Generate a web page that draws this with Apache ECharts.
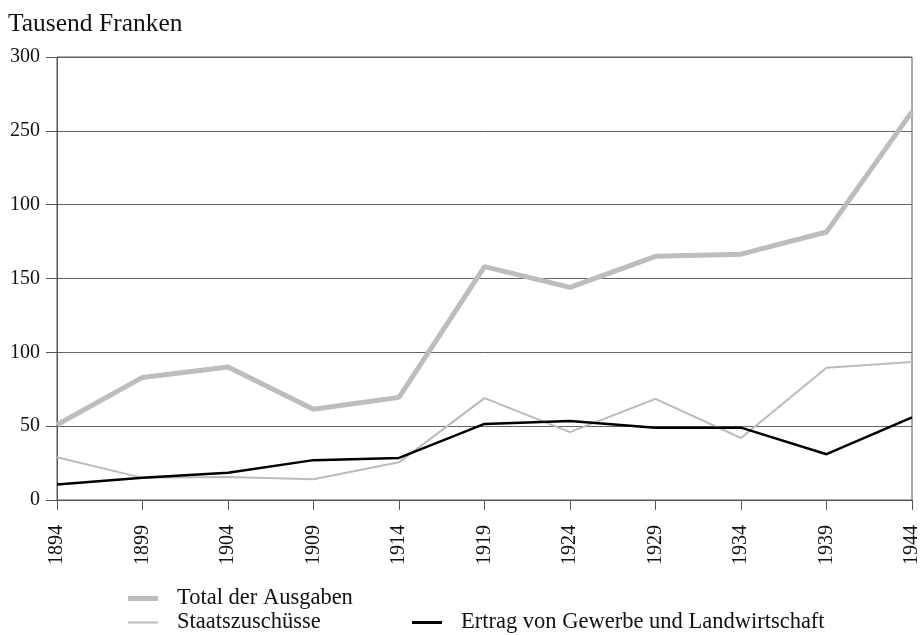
<!DOCTYPE html>
<html>
<head>
<meta charset="utf-8">
<script src="https://cdn.jsdelivr.net/npm/echarts@6/dist/echarts.min.js"></script>
<style>
html,body{margin:0;padding:0;background:#fff;}
#chart{width:922px;height:635px;}
</style>
</head>
<body>
<div id="chart"></div>
<script>
const years = ['1894','1899','1904','1909','1914','1919','1924','1929','1934','1939','1944'];
const totalAusgaben = [51, 83, 90, 61.5, 69.5, 158, 144, 165, 166.5, 181.5, 263];
const staatszuschuesse = [29, 15, 15.5, 14, 25.5, 69, 46, 68.5, 42, 89.5, 93.5];
const ertrag = [10.5, 15, 18.5, 27, 28.5, 51.5, 53.5, 49, 49, 31, 56];
const yTickLabels = ['0', '50', '100', '150', '100', '250', '300'];
const yTitle = 'Tausend Franken';
const seriesNames = ['Total der Ausgaben', 'Staatszuschüsse', 'Ertrag von Gewerbe und Landwirtschaft'];

const font = '"Liberation Serif", "DejaVu Serif", serif';
const chart = echarts.init(document.getElementById('chart'), null, {renderer: 'canvas'});
const legendText = {fontFamily: font, fontSize: 22.5, color: '#111', padding: [0, 0, 0, 14]};
chart.setOption({
  animation: false,
  backgroundColor: '#fff',
  textStyle: {fontFamily: font},
  title: {
    text: yTitle, left: 3, top: 6,
    textStyle: {fontFamily: font, fontSize: 25.5, fontWeight: 'normal', color: '#111'}
  },
  grid: {left: 57, right: 6, top: 57, bottom: 135, show: true, borderColor: '#555', borderWidth: 1, backgroundColor: 'transparent'},
  legend: [
    {data: [seriesNames[0]], left: 123, top: 582, itemWidth: 30, itemHeight: 5, icon: 'rect', textStyle: legendText},
    {data: [seriesNames[1]], left: 123, top: 606, itemWidth: 30, itemHeight: 2, icon: 'rect', textStyle: legendText},
    {data: [seriesNames[2]], left: 407, top: 606, itemWidth: 30, itemHeight: 3, icon: 'rect', textStyle: legendText}
  ],
  xAxis: {
    type: 'category', data: years, boundaryGap: false,
    axisLine: {lineStyle: {color: '#555', width: 1}},
    axisTick: {show: true, length: 10, alignWithLabel: true, lineStyle: {color: '#555'}},
    axisLabel: {rotate: 90, margin: 25, fontFamily: font, fontSize: 20, color: '#111'},
    splitLine: {show: false}
  },
  yAxis: {
    type: 'value', min: 0, max: 300, interval: 50,
    axisLine: {show: true, lineStyle: {color: '#555', width: 1}},
    axisTick: {show: true, length: 11, lineStyle: {color: '#555'}},
    axisLabel: {margin: 17, fontFamily: font, fontSize: 20, color: '#111',
      formatter: v => yTickLabels[Math.round(v / 50)]},
    splitLine: {show: true, lineStyle: {color: '#666', width: 1}}
  },
  series: [
    {name: seriesNames[0], type: 'line', data: totalAusgaben, symbol: 'none', z: 3,
      lineStyle: {color: '#bdbdbd', width: 5}, itemStyle: {color: '#bdbdbd'}},
    {name: seriesNames[1], type: 'line', data: staatszuschuesse, symbol: 'none', z: 4,
      lineStyle: {color: '#bbbbbb', width: 2}, itemStyle: {color: '#bbbbbb'}},
    {name: seriesNames[2], type: 'line', data: ertrag, symbol: 'none', z: 5,
      lineStyle: {color: '#000', width: 2.5}, itemStyle: {color: '#000'}}
  ]
});
</script>
</body>
</html>
